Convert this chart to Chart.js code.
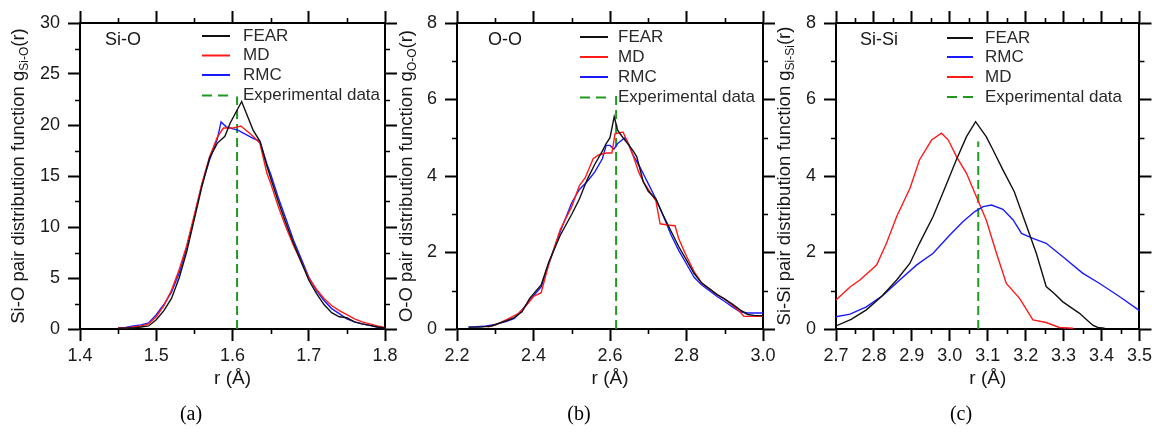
<!DOCTYPE html>
<html><head><meta charset="utf-8">
<script src="https://cdn.jsdelivr.net/npm/chart.js@4.4.1/dist/chart.umd.min.js"></script>
<style>
html,body{margin:0;padding:0;background:#fff;width:1156px;height:438px;overflow:hidden}
canvas{position:absolute;left:0;top:0;pointer-events:none}
</style></head>
<body>
<canvas id="ca" width="1156" height="438"></canvas>
<canvas id="cb" width="1156" height="438"></canvas>
<canvas id="cc" width="1156" height="438"></canvas>
<script>
// ---------- (a) Si-O ----------
const siO_fear_r = [1.45,1.46,1.47,1.48,1.49,1.50,1.51,1.52,1.53,1.54,1.55,1.56,1.57,1.58,1.59,1.597,1.612,1.627,1.636,1.645,1.65,1.66,1.67,1.68,1.69,1.70,1.71,1.72,1.73,1.74,1.75,1.76,1.77,1.78,1.79,1.80];
const siO_fear_g = [0.05,0.1,0.1,0.2,0.3,0.9,1.8,3.0,5.0,7.6,10.8,14.0,16.8,18.2,18.9,20.2,22.3,19.5,18.4,16.0,14.8,12.5,10.4,8.4,6.6,4.8,3.5,2.4,1.6,1.2,1.1,0.7,0.5,0.35,0.2,0.1];
const siO_md_r = [1.45,1.46,1.47,1.48,1.49,1.50,1.51,1.52,1.53,1.54,1.55,1.56,1.57,1.58,1.588,1.60,1.611,1.627,1.636,1.645,1.65,1.66,1.67,1.68,1.69,1.70,1.71,1.72,1.73,1.74,1.75,1.76,1.77,1.78,1.79,1.80];
const siO_md_g = [0.1,0.1,0.2,0.3,0.5,1.2,2.3,3.8,5.8,8.2,11.2,14.3,16.9,18.8,19.7,19.7,19.9,18.9,18.2,15.3,14.3,12.0,10.0,8.2,6.6,5.0,3.9,3.0,2.3,1.8,1.4,1.0,0.7,0.5,0.3,0.15];
const siO_rmc_r = [1.45,1.46,1.47,1.48,1.49,1.50,1.51,1.52,1.53,1.54,1.55,1.56,1.57,1.58,1.585,1.592,1.607,1.627,1.636,1.645,1.65,1.66,1.67,1.68,1.69,1.70,1.71,1.72,1.73,1.74,1.75,1.76,1.77,1.78,1.79,1.80];
const siO_rmc_g = [0.1,0.15,0.3,0.4,0.6,1.4,2.4,3.6,5.5,8.0,11.0,14.2,16.6,18.6,20.3,19.8,19.5,18.7,18.4,16.2,15.2,12.9,10.8,8.7,6.9,5.1,3.8,2.8,2.0,1.5,1.0,0.7,0.5,0.35,0.2,0.1];
const siO_exp_r = [1.606,1.606];
const siO_exp_g = [0,22.8];

// ---------- (b) O-O ----------
const oo_fear_r = [2.23,2.26,2.29,2.31,2.33,2.35,2.37,2.39,2.42,2.44,2.47,2.50,2.52,2.54,2.56,2.58,2.59,2.60,2.611,2.62,2.634,2.65,2.661,2.67,2.687,2.70,2.72,2.74,2.76,2.78,2.80,2.82,2.84,2.86,2.88,2.90,2.92,2.94,2.96,2.98,3.00];
const oo_fear_g = [0.05,0.05,0.08,0.15,0.22,0.3,0.45,0.8,1.15,1.75,2.45,3.0,3.4,3.9,4.3,4.65,4.85,5.0,5.55,5.2,5.0,4.8,4.65,4.5,3.85,3.6,3.4,2.95,2.55,2.15,1.8,1.45,1.2,1.05,0.9,0.78,0.65,0.5,0.38,0.35,0.35];
const oo_md_r = [2.28,2.30,2.32,2.34,2.36,2.38,2.40,2.42,2.44,2.47,2.50,2.52,2.535,2.556,2.57,2.59,2.605,2.613,2.634,2.65,2.66,2.675,2.687,2.70,2.72,2.731,2.75,2.77,2.78,2.80,2.82,2.84,2.86,2.88,2.90,2.92,2.94,2.95,3.00];
const oo_md_g = [0.05,0.1,0.2,0.3,0.4,0.6,0.85,0.95,1.7,2.6,3.2,3.75,3.95,4.45,4.55,4.6,4.6,5.1,5.15,4.8,4.55,4.1,3.85,3.65,3.35,2.75,2.72,2.7,2.35,1.9,1.5,1.2,1.05,0.9,0.78,0.62,0.45,0.33,0.33];
const oo_rmc_r = [2.23,2.27,2.30,2.33,2.35,2.37,2.39,2.42,2.44,2.47,2.50,2.52,2.54,2.56,2.58,2.59,2.60,2.61,2.62,2.639,2.65,2.66,2.68,2.69,2.70,2.72,2.74,2.76,2.78,2.80,2.82,2.84,2.86,2.88,2.90,2.92,2.94,2.96,2.98,3.00];
const oo_rmc_g = [0.05,0.07,0.12,0.2,0.28,0.5,0.75,1.1,1.7,2.55,3.3,3.65,3.85,4.1,4.45,4.8,4.8,4.7,4.85,5.0,4.8,4.55,4.2,4.0,3.8,3.4,2.95,2.45,2.05,1.7,1.35,1.15,1.0,0.85,0.72,0.58,0.45,0.42,0.42,0.42];
const oo_exp_r = [2.616,2.616];
const oo_exp_g = [0,6.1];

// ---------- (c) Si-Si ----------
const sisi_fear_r = [2.70,2.74,2.78,2.82,2.86,2.895,2.92,2.956,2.99,3.017,3.044,3.068,3.096,3.114,3.14,3.17,3.20,3.228,3.254,3.276,3.298,3.32,3.342,3.36,3.377,3.39,3.408];
const sisi_fear_g = [0.08,0.25,0.5,0.85,1.28,1.72,2.24,2.94,3.76,4.42,5.03,5.42,5.03,4.68,4.16,3.59,2.76,1.98,1.11,0.92,0.71,0.56,0.41,0.25,0.1,0.04,0.02];
const sisi_rmc_r = [2.70,2.737,2.78,2.825,2.868,2.912,2.956,3.0,3.035,3.066,3.088,3.11,3.14,3.167,3.189,3.219,3.254,3.298,3.35,3.395,3.447,3.50];
const sisi_rmc_g = [0.32,0.39,0.58,0.89,1.28,1.67,1.98,2.46,2.81,3.07,3.2,3.24,3.13,2.85,2.5,2.37,2.24,1.89,1.46,1.19,0.85,0.48];
const sisi_md_r = [2.70,2.737,2.763,2.807,2.833,2.86,2.895,2.92,2.952,2.978,2.996,3.018,3.044,3.07,3.096,3.123,3.149,3.184,3.219,3.254,3.289,3.325];
const sisi_md_g = [0.76,1.1,1.28,1.67,2.24,2.94,3.68,4.42,4.94,5.12,4.94,4.5,4.07,3.46,2.85,1.98,1.19,0.8,0.24,0.17,0.04,0.02];
const sisi_exp_r = [3.075,3.075];
const sisi_exp_g = [0,4.9];

// axis ranges / ticks: [min, max, major step, minor step]
const xTicksA = [1.4,1.8,0.1,0.05], yTicksA = [0,30,5,2.5];
const xTicksB = [2.2,3.0,0.2,0.1], yTicksB = [0,8,2,1];
const xTicksC = [2.7,3.5,0.1,0.05], yTicksC = [0,8,2,1];

const FONT = '"Liberation Sans", Arial, Helvetica, sans-serif';
Chart.defaults.font.family = FONT;
const W = 1156, H = 438, TL = 12, MTL = 5;
const LW = 60, BH = 42;   // fitted sizes of left / bottom scales (labels live inside)
const C_FEAR = '#111111', C_MD = '#ff1a1a', C_RMC = '#1a1aff', C_EXP = '#1f9a1f';

function ser(label, r, g, color, dash) {
  return {label, data: r.map((x, i) => ({x, y: g[i]})), borderColor: color, borderWidth: dash ? 2 : 1.4,
    borderDash: dash || [], pointRadius: 0, tension: 0, fill: false};
}

function drawYTitle(ctx, cx, cy, main, sub, tail, size) {
  ctx.save();
  ctx.translate(cx, cy); ctx.rotate(-Math.PI / 2);
  const f = size + 'px ' + FONT, fs = Math.round(size * 0.66) + 'px ' + FONT;
  ctx.font = f; const w1 = ctx.measureText(main).width, w3 = ctx.measureText(tail).width;
  ctx.font = fs; const w2 = ctx.measureText(sub).width;
  let x = -(w1 + w2 + w3) / 2;
  ctx.textBaseline = 'middle'; ctx.textAlign = 'left'; ctx.fillStyle = '#161616';
  ctx.font = f; ctx.fillText(main, x, 0); x += w1;
  ctx.font = fs; ctx.fillText(sub, x, size * 0.32); x += w2;
  ctx.font = f; ctx.fillText(tail, x, 0);
  ctx.restore();
}

function makeDecor(P) {
  return {
    id: 'decor' + P.id,
    afterDraw(chart) {
      const ctx = chart.ctx, a = chart.chartArea;
      const sx = chart.scales.x, sy = chart.scales.y;
      ctx.save();
      ctx.strokeStyle = '#000'; ctx.lineWidth = 1.6;
      // minor ticks
      const [xmin, xmax, xmaj, xmi] = P.xt, [ymin, ymax, ymaj, ymi] = P.yt;
      const nx = Math.round((xmax - xmin) / xmi), rx = Math.round(xmaj / xmi);
      for (let i = 0; i <= nx; i++) {
        if (i % rx === 0) continue;
        const p = Math.round(sx.getPixelForValue(xmin + i * xmi)) + 0.5;
        ctx.beginPath(); ctx.moveTo(p, a.bottom); ctx.lineTo(p, a.bottom + MTL);
        ctx.moveTo(p, a.top); ctx.lineTo(p, a.top - MTL); ctx.stroke();
      }
      const ny = Math.round((ymax - ymin) / ymi), ry = Math.round(ymaj / ymi);
      for (let i = 0; i <= ny; i++) {
        if (i % ry === 0) continue;
        const p = Math.round(sy.getPixelForValue(ymin + i * ymi)) + 0.5;
        ctx.beginPath(); ctx.moveTo(a.left, p); ctx.lineTo(a.left - MTL, p);
        ctx.moveTo(a.right, p); ctx.lineTo(a.right + MTL, p); ctx.stroke();
      }
      // panel label
      ctx.fillStyle = '#161616'; ctx.textBaseline = 'middle'; ctx.textAlign = 'left';
      ctx.font = '18px ' + FONT;
      ctx.fillText(P.name, P.nameX, 40);
      // legend
      ctx.font = '17px ' + FONT;
      chart.data.datasets.forEach((d, i) => {
        const y = P.legY[i];
        ctx.save();
        ctx.strokeStyle = d.borderColor; ctx.lineWidth = 2;
        ctx.setLineDash(d.borderDash && d.borderDash.length ? [10, 6] : []);
        ctx.beginPath(); ctx.moveTo(P.legX0, y); ctx.lineTo(P.legX1, y); ctx.stroke();
        ctx.restore();
        ctx.fillStyle = '#2a2a2a';
        ctx.fillText(d.label, P.legT, y);
      });
      // x title
      ctx.fillStyle = '#161616'; ctx.textAlign = 'center'; ctx.font = '19px ' + FONT;
      ctx.fillText('r (\u00C5)', (a.left + a.right) / 2, 379);
      // y title
      drawYTitle(ctx, P.yTitleX, (a.top + a.bottom) / 2, P.yMain, P.ySub, '(r)', 18.5);
      // caption
      ctx.fillStyle = '#000'; ctx.textAlign = 'center';
      ctx.font = '20px "Liberation Serif", "DejaVu Serif", serif';
      ctx.fillText(P.caption, P.capX, 415);
      ctx.restore();
    }
  };
}

function makeChart(P) {
  const fmtX = v => v.toFixed(1);
  const tickFont = {size: 18};
  const grid = {drawOnChartArea: false, drawTicks: true, tickLength: TL, tickWidth: 2, tickColor: '#000'};
  const border = {display: true, width: 2, color: '#000'};
  const [xmin, xmax, xstep] = P.xt, [ymin, ymax, ystep] = P.yt;
  new Chart(document.getElementById(P.id), {
    type: 'line',
    data: {datasets: P.datasets},
    options: {
      responsive: false, animation: false, devicePixelRatio: 1, events: [],
      layout: {padding: {left: P.area.l - LW, right: W - P.area.r - TL, top: P.area.t - TL, bottom: H - P.area.b - BH}},
      plugins: {legend: {display: false}, tooltip: {enabled: false}},
      scales: {
        x: {type: 'linear', axis: 'x', position: 'bottom', min: xmin, max: xmax,
          ticks: {stepSize: xstep, autoSkip: false, maxRotation: 0, minRotation: 0, padding: 4, color: '#1a1a1a', font: tickFont, callback: fmtX},
          grid, border, afterFit: s => { s.height = BH; }},
        x2: {type: 'linear', axis: 'x', position: 'top', min: xmin, max: xmax,
          ticks: {stepSize: xstep, display: false}, grid, border, afterFit: s => { s.height = TL; }},
        y: {type: 'linear', axis: 'y', position: 'left', min: ymin, max: ymax,
          ticks: {stepSize: ystep, autoSkip: false, padding: 8, color: '#1a1a1a', font: tickFont, callback: v => String(Math.round(v))},
          grid, border, afterFit: s => { s.width = LW; }},
        y2: {type: 'linear', axis: 'y', position: 'right', min: ymin, max: ymax,
          ticks: {stepSize: ystep, display: false}, grid, border, afterFit: s => { s.width = TL; }}
      }
    },
    plugins: [makeDecor(P)]
  });
}

makeChart({
  id: 'ca', area: {l: 80, r: 385, t: 23, b: 329}, xt: xTicksA, yt: yTicksA,
  datasets: [
    ser('FEAR', siO_fear_r, siO_fear_g, C_FEAR),
    ser('MD', siO_md_r, siO_md_g, C_MD),
    ser('RMC', siO_rmc_r, siO_rmc_g, C_RMC),
    ser('Experimental data', siO_exp_r, siO_exp_g, C_EXP, [9, 5])
  ],
  name: 'Si-O', nameX: 105, legX0: 202, legX1: 230, legT: 243, legY: [36, 55.5, 75, 95.5],
  yTitleX: 19, yMain: 'Si-O pair distribution function g', ySub: 'Si-O', caption: '(a)', capX: 191
});
makeChart({
  id: 'cb', area: {l: 457, r: 763, t: 23, b: 329}, xt: xTicksB, yt: yTicksB,
  datasets: [
    ser('FEAR', oo_fear_r, oo_fear_g, C_FEAR),
    ser('MD', oo_md_r, oo_md_g, C_MD),
    ser('RMC', oo_rmc_r, oo_rmc_g, C_RMC),
    ser('Experimental data', oo_exp_r, oo_exp_g, C_EXP, [9, 5])
  ],
  name: 'O-O', nameX: 488, legX0: 580, legX1: 608, legT: 618, legY: [37, 57, 77, 97.5],
  yTitleX: 407, yMain: 'O-O pair distribution function g', ySub: 'O-O', caption: '(b)', capX: 579
});
makeChart({
  id: 'cc', area: {l: 836, r: 1140, t: 23, b: 329}, xt: xTicksC, yt: yTicksC,
  datasets: [
    ser('FEAR', sisi_fear_r, sisi_fear_g, C_FEAR),
    ser('RMC', sisi_rmc_r, sisi_rmc_g, C_RMC),
    ser('MD', sisi_md_r, sisi_md_g, C_MD),
    ser('Experimental data', sisi_exp_r, sisi_exp_g, C_EXP, [9, 5])
  ],
  name: 'Si-Si', nameX: 860, legX0: 947, legX1: 973, legT: 985, legY: [38, 57, 77, 97],
  yTitleX: 785, yMain: 'Si-Si pair distribution function g', ySub: 'Si-Si', caption: '(c)', capX: 961
});
</script>
</body></html>
